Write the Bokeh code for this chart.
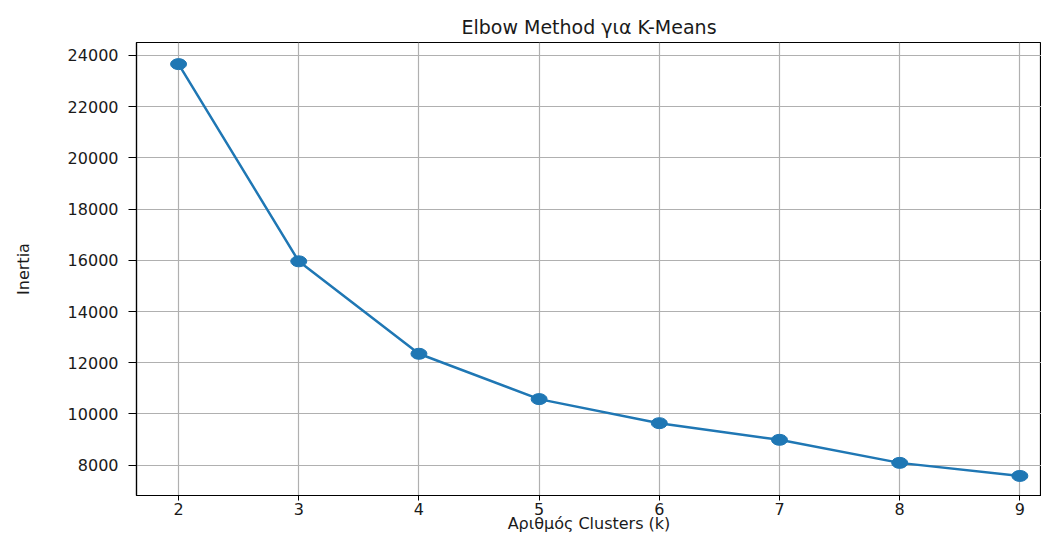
from bokeh.plotting import figure
from bokeh.models import Range1d, FixedTicker, ColumnDataSource
from bokeh.embed import file_html
from bokeh.resources import INLINE

# Data
k_values = [2, 3, 4, 5, 6, 7, 8, 9]
inertia = [23660, 15960, 12350, 10580, 9640, 8990, 8090, 7580]
x_ticks = [2, 3, 4, 5, 6, 7, 8, 9]
y_ticks = [8000, 10000, 12000, 14000, 16000, 18000, 20000, 22000, 24000]

title_text = "Elbow Method για K-Means"
x_label = "Αριθμός Clusters (k)"
y_label = "Inertia"

FONT = "DejaVu Sans"
BLUE = "#1f77b4"

source = ColumnDataSource(data=dict(k=k_values, inertia=inertia))

p = figure(
    width=1041, height=535,
    output_backend="svg", toolbar_location=None,
    x_range=Range1d(1.65, 9.18), y_range=Range1d(6816, 24504),
    min_border_left=136, min_border_right=0,
    min_border_top=42, min_border_bottom=40,
    title=title_text,
)

p.background_fill_color = "white"
p.border_fill_color = "white"
p.outline_line_color = "black"
p.outline_line_width = 1.2

# Title
p.title.text_font = FONT
p.title.text_font_size = "19px"
p.title.text_font_style = "normal"
p.title.text_color = "#1a1a1a"
p.title.align = "center"
p.title.standoff = 9

# Axes
for ax in (p.xaxis[0], p.yaxis[0]):
    ax.axis_line_color = "black"
    ax.axis_line_width = 1.2
    ax.major_tick_line_color = "black"
    ax.major_tick_line_width = 1
    ax.major_tick_in = 0
    ax.minor_tick_line_color = None
    ax.major_label_text_font = FONT
    ax.major_label_text_font_size = "16px"
    ax.major_label_text_color = "#1a1a1a"
    ax.axis_label_text_font = FONT
    ax.axis_label_text_font_size = "16px"
    ax.axis_label_text_font_style = "normal"
    ax.axis_label_text_color = "#1a1a1a"

p.xaxis.ticker = FixedTicker(ticks=x_ticks)
p.yaxis.ticker = FixedTicker(ticks=y_ticks)
p.xaxis.major_tick_out = 5
p.yaxis.major_tick_out = 8
p.xaxis.major_label_standoff = 2
p.yaxis.major_label_standoff = 10
p.xaxis.axis_label = x_label
p.yaxis.axis_label = y_label
p.xaxis.axis_label_standoff = -4
p.yaxis.axis_label_standoff = 32

# Grid
for g in (p.xgrid[0], p.ygrid[0]):
    g.grid_line_color = "#b0b0b0"
    g.grid_line_width = 1.2
p.xgrid.ticker = FixedTicker(ticks=x_ticks)
p.ygrid.ticker = FixedTicker(ticks=y_ticks)

# Line + markers
p.line(x="k", y="inertia", source=source, line_color=BLUE, line_width=2.5)
p.ellipse(x="k", y="inertia", source=source, width=16, height=11,
          width_units="screen", height_units="screen",
          fill_color=BLUE, line_color=BLUE)

open("out.html", "w").write(file_html(p, INLINE))
